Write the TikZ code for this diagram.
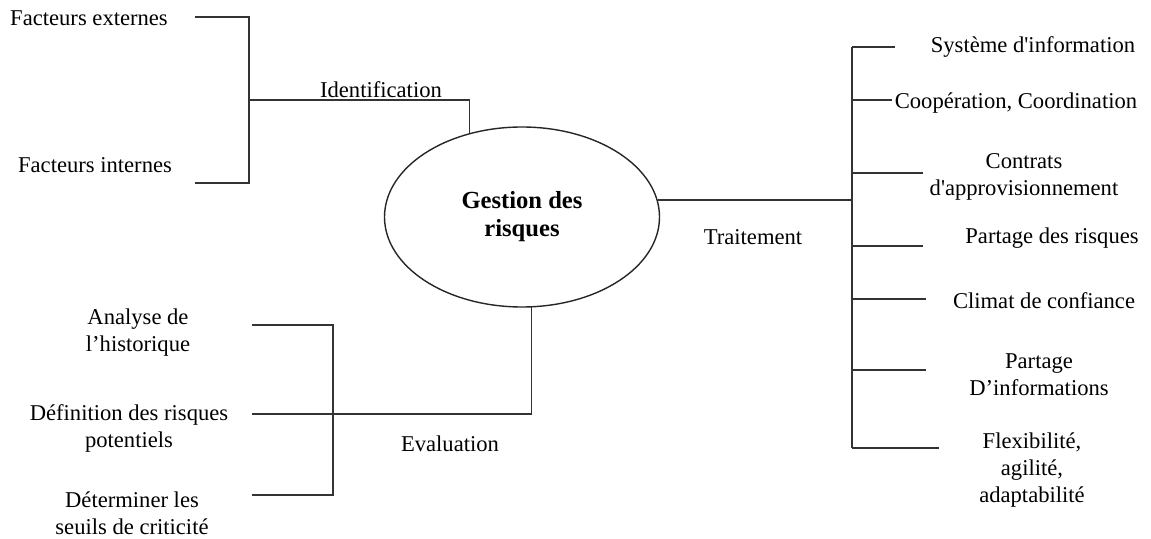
\documentclass[tikz,border=0pt]{standalone}
\usepackage{fontspec}
\setmainfont{Liberation Serif}
\usetikzlibrary{shapes.geometric}

\begin{document}
\begin{tikzpicture}[x=0.5pt,y=-0.5pt,
  lbl/.style={align=center,inner sep=1pt,font=\fontsize{11.3}{13.5}\selectfont},
  ln/.style={draw=black!80,line width=0.9pt}]
  \useasboundingbox (0,0) rectangle (1151,539);
  % centre
  \node[ellipse,draw=black!85,line width=0.7pt,minimum width=137.5pt,minimum height=90pt,inner sep=0pt,align=center,font=\bfseries\fontsize{12.3}{14}\selectfont] (gest) at (522,217) {Gestion des\\risques};
  % identification
  \node[lbl] (fext) at (89,18) {Facteurs externes};
  \node[lbl] (fint) at (95,165) {Facteurs internes};
  \node[lbl] (ident) at (381,90) {Identification};
  \coordinate (idt) at (195,17);
  \coordinate (idb) at (195,183);
  \coordinate (idm) at (249,100);
  \draw[ln] (idt) -| (idm) |- (idb);
  \draw[ln] (idm) -| (gest.122.6);
  % evaluation
  \node[lbl] (anal) at (138,333) {Analyse de\\l’historique};
  \node[lbl] (defr) at (129,428) {Définition des risques\\potentiels};
  \node[lbl] (seuil) at (132,513) {Déterminer les\\seuils de criticité};
  \node[lbl] (eval) at (450,444) {Evaluation};
  \coordinate (evt) at (252,325);
  \coordinate (evb) at (252,495);
  \coordinate (evm) at (333,414);
  \coordinate (evl) at (252,414);
  \draw[ln] (evt) -| (evm) |- (evb);
  \draw[ln] (evl) -| (gest.276);
  % traitement
  \node[lbl] (trait) at (753,237) {Traitement};
  \coordinate (trt) at (852,47);
  \coordinate (trb) at (852,448);
  \draw[ln] (trt) -- (trb);
  \draw[ln] (gest.7) -- (gest.7 -| trt);
  \foreach \y/\e in {47/895,100/892,173/923,246/923,299/926,370/926,448/939}
    \draw[ln] (trt |- 0,\y) -- (\e,\y);
  \node[lbl] (sysi) at (1033,47) {Système d\textquotesingle information};
  \node[lbl] (coop) at (1016,103) {Coopération, Coordination};
  \node[lbl] (contr) at (1024,177) {Contrats\\d\textquotesingle approvisionnement};
  \node[lbl] (partr) at (1052,238) {Partage des risques};
  \node[lbl] (clim) at (1044,301) {Climat de confiance};
  \node[lbl] (parti) at (1039,375) {Partage\\D’informations};
  \node[lbl] (flex) at (1032,470) {Flexibilité,\\agilité,\\adaptabilité};
\end{tikzpicture}
\end{document}
